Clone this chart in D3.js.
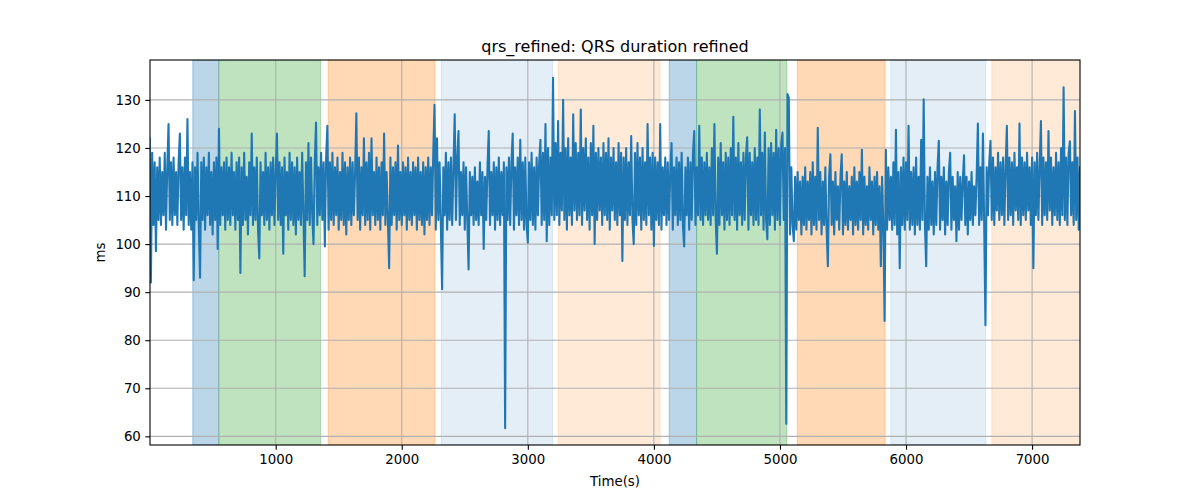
<!DOCTYPE html>
<html><head><meta charset="utf-8">
<script src="https://cdn.jsdelivr.net/npm/d3@7"></script>
<style>body{margin:0;background:#fff;} text{font-family:"DejaVu Sans",sans-serif;}</style>
</head><body><svg id="c" width="1200" height="500"></svg>
<script>
const title = "qrs_refined: QRS duration refined";
const xLabel = "Time(s)";
const yLabel = "ms";
const xTicks = [1000,2000,3000,4000,5000,6000,7000];
const yTicks = [60,70,80,90,100,110,120,130];
const sampleStep = 10; // seconds between samples
const spanStart = [342, 549, 1416, 2313, 3241, 4121, 4339, 5137, 5879, 6680];
const spanEnd   = [549, 1356, 2263, 3196, 4049, 4339, 5055, 5834, 6632, 7420];
const spanKind  = ["s1","s2","s3","s4","s5","s1","s2","s3","s4","s5"];
const qrs = [
122,92,119,104,117,98.5,116,105,118,104,115,106,119,103,116,125,105,117,104,118,
106,115,104,117,123,105,116,103,118,106,126,104,115,103,117,92.5,116,105,119,104,
93,117,105,118,103,116,106,119,104,115,102,117,105,118,99,124,104,116,106,117,
103,118,105,116,104,119,106,115,103,117,105,118,94,116,104,119,105,114,102,117,
106,123,104,116,105,118,103,97,117,106,115,104,119,105,116,103,117,106,118,104,
115,123,105,117,104,116,98,118,106,115,103,119,105,117,104,116,102,118,105,115,
104,119,106,93.3,117,105,121,104,118,106,100,117,125.3,104,116,106,119,105,117,99.5,
118,124.6,103,117,105,119,104,116,106,118,103,115,105,119,104,117,102,116,105,118,
104,117,106,115,127.2,105,118,103,116,106,122,104,117,105,119,103,122,106,115,104,
118,105,116,103,117,106,123,104,115,105,95,118,104,116,106,117,103,120.5,105,115,
104,117,106,116,103,118,105,115,104,117,106,116,103,118,105,115,104,117,102,116,
105,118,104,116,106,119,129,103,122,105,117,104,90.6,116,106,119,103,117,105,118,
104,116,127,105,118,123.5,104,115,106,117,103,116,105,94.7,115,106,114,104,116,105,
113,104,117,106,115,99,114,105,116,123.5,104,115,106,117,103,116,105,118,104,115,
106,117,61.7,116,105,118,104,117,123,103,116,106,118,104,121.7,105,117,103,118,104,
100.3,117,105,119,104,116,103,118,106,117,121.7,104,119,105,125,100.6,120,104,118,106,
134.6,105,121,106,125.6,104,119,107,130,105,120,103,122,106,118,104,127,107,121,105,
119,106,128,104,120,107,122,105,118,103,121,106,124.6,100,119,105,120,107,118,104,
121,106,119,105,122,103,118,107,120,105,117,104,121,106,119,96.5,118,105,120,104,
117,106,122.5,105,100,119,104,121,106,118,103,120,105,117,104,125,106,118,103,119,
99.6,118,105,117,104,125,103,116,106,118,104,117,105,115,121,103,116,106,118,104,
117,105,119,104,99.5,116,106,118,103,117,105,119,123.5,104,116,106,124.6,105,118,104,
117,106,119,105,116,104,120,106,125,105,98,118,104,121,106,117,103,119,105,118,
104,120,106,126.5,105,118,103,121,106,117,104,119,105,118,122.2,103,119,106,117,104,
120,105,118,104,128,106,119,103,123.2,105,101,120,104,121,106,119,103,123.8,105,120,
104,121,123.2,105,120,62.6,131.2,130.5,102,116,104,100.6,114,103,115,105,113,102,114,104,
116,103,113,105,115,102,117,104,114,103,124.2,105,115,102,113,104,116,103,95.4,114,
118.7,104,113,102,115,105,112,103,114,118.7,102,113,104,115,103,112,105,114,102,116,
104,113,103,115,105,119.6,102,114,104,112,103,116,105,113,102,114,104,115,103,112,
95.4,114,104,84,119.6,103,116,105,114,103,117,104,123.8,102,115,95,116,104,118,103,
117,105,124.6,103,115,104,116,102,118,104,114,103,121.7,105,130.1,104,95.4,114,103,116,
104,113,102,115,104,116,121.5,103,114,105,116,102,113,104,115,119,103,114,105,112,
100.6,115,103,114,105,113,118.5,104,114,102,113,105,115,104,112,106,114,125.1,104,116,
105,123,104,83.1,116,106,117,121.5,105,118,104,116,107,119,105,117,106,118,104,116,
124.6,105,118,106,117,104,119,107,116,105,125.1,104,118,106,117,105,119,107,116,104,
118,95,117,106,119,105,116,125.6,104,118,106,117,105,123.5,107,118,104,116,106,119,
105,117,104,120,106,132.6,105,118,104,119,121.4,106,117,104,127.7,105,118,103,116
];
const spanStyle = {
  s1:{fill:"#1f77b4", op:0.3},
  s2:{fill:"#2ca02c", op:0.3},
  s3:{fill:"#ff7f0e", op:0.3},
  s4:{fill:"#1f77b4", op:0.12},
  s5:{fill:"#ff7f0e", op:0.16}
};

const W=1200,H=500, m={l:150,r:120,t:60,b:55};
const iw=W-m.l-m.r, ih=H-m.t-m.b;
const svg=d3.select("#c");
const times = qrs.map((d,i)=>i*sampleStep);
const x=d3.scaleLinear().domain([3, 7380]).range([0,iw]);
const y=d3.scaleLinear().domain([58.2,138.3]).range([ih,0]);
const g=svg.append("g").attr("transform",`translate(${m.l},${m.t})`);
svg.append("defs").append("clipPath").attr("id","clip").append("rect").attr("width",iw).attr("height",ih);
const pl=g.append("g").attr("clip-path","url(#clip)");
pl.selectAll("rect.span").data(spanStart).join("rect").attr("class","span")
  .attr("x",(d)=>x(d)).attr("width",(d,i)=>x(spanEnd[i])-x(d))
  .attr("y",0).attr("height",ih)
  .attr("fill",(d,i)=>spanStyle[spanKind[i]].fill)
  .attr("fill-opacity",(d,i)=>spanStyle[spanKind[i]].op)
  .attr("stroke",(d,i)=>spanStyle[spanKind[i]].fill)
  .attr("stroke-opacity",(d,i)=>spanStyle[spanKind[i]].op)
  .attr("stroke-width",1);
// grid
pl.selectAll("line.gx").data(xTicks).join("line").attr("x1",d=>x(d)).attr("x2",d=>x(d)).attr("y1",0).attr("y2",ih)
  .attr("stroke","#b0b0b0").attr("stroke-width",1.1);
pl.selectAll("line.gy").data(yTicks).join("line").attr("y1",d=>y(d)).attr("y2",d=>y(d)).attr("x1",0).attr("x2",iw)
  .attr("stroke","#b0b0b0").attr("stroke-width",1.1);
const line=d3.line().x((d,i)=>x(times[i])).y(d=>y(d));
pl.append("path").datum(qrs).attr("d",line).attr("fill","none").attr("stroke","#1f77b4")
  .attr("stroke-width",2.08).attr("stroke-linejoin","round").attr("stroke-linecap","square");
// axes
const xa=g.append("g").attr("transform",`translate(0,${ih})`).call(d3.axisBottom(x).tickValues(xTicks).tickSize(4.67).tickPadding(4.5).tickFormat(d3.format("d")));
const ya=g.append("g").call(d3.axisLeft(y).tickValues(yTicks).tickSize(4.67).tickPadding(4.5));
[xa,ya].forEach(a=>{a.select(".domain").remove();a.selectAll("text").attr("font-size","13.33px").attr("fill","#000").attr("font-family","DejaVu Sans");a.selectAll("line").attr("stroke","#000").attr("stroke-width",1.1);});
g.append("rect").attr("width",iw).attr("height",ih).attr("fill","none").attr("stroke","#000").attr("stroke-width",1.1);
svg.append("text").attr("x",m.l+iw/2).attr("y",52).attr("text-anchor","middle").attr("font-size","16px").text(title);
svg.append("text").attr("x",m.l+iw/2).attr("y",486).attr("text-anchor","middle").attr("font-size","13.33px").text(xLabel);
svg.append("text").attr("transform",`translate(105,${m.t+ih/2}) rotate(-90)`).attr("text-anchor","middle").attr("font-size","13.33px").text(yLabel);
</script></body></html>
